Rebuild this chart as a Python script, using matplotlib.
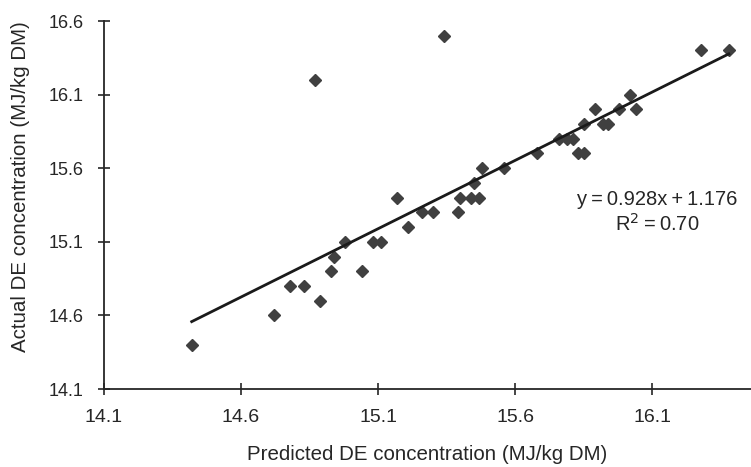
import numpy as np
import matplotlib
matplotlib.use('Agg')
import matplotlib.pyplot as plt

plt.rcParams['font.family'] = ['Liberation Sans', 'DejaVu Sans']

# Predicted vs actual DE concentration (MJ/kg DM)
predicted = [14.42, 14.72, 14.78, 14.83, 14.89, 14.93, 14.94, 14.98, 15.04,
             15.08, 15.11, 15.17, 15.21, 15.26, 15.30, 15.39, 15.40, 15.44,
             15.47, 15.45, 15.48, 15.56, 15.68, 15.76, 15.79, 15.81, 15.83,
             15.85, 15.85, 15.89, 15.92, 15.94, 15.98, 16.02, 16.04, 16.28,
             16.38, 14.87, 15.34]
actual = [14.40, 14.60, 14.80, 14.80, 14.70, 14.90, 15.00, 15.10, 14.90,
          15.10, 15.10, 15.40, 15.20, 15.30, 15.30, 15.30, 15.40, 15.40,
          15.40, 15.50, 15.60, 15.60, 15.70, 15.80, 15.80, 15.80, 15.70,
          15.70, 15.90, 16.00, 15.90, 15.90, 16.00, 16.10, 16.00, 16.40,
          16.40, 16.20, 16.50]

slope = 0.928
intercept = 1.176
r_squared = 0.70

ticks = [14.1, 14.6, 15.1, 15.6, 16.1, 16.6]
xticks = [14.1, 14.6, 15.1, 15.6, 16.1]

ink = '#262626'

fig = plt.figure(figsize=(7.51, 4.67), dpi=100)
ax = fig.add_axes([0.1385, 0.167, 0.8615, 0.788])

ax.plot(predicted, actual, linestyle='none', marker='D', markersize=6.2,
        color='#404040', zorder=3)

xfit = np.array([min(predicted), max(predicted)])
ax.plot(xfit, slope * xfit + intercept, color='#1a1a1a', linewidth=2.0, zorder=4)

# equation of the fitted line
ax.text(16.12, 15.39, f'y\u2009=\u2009{slope:.3f}x\u2009+\u2009{intercept:.3f}',
        ha='center', va='center', fontsize=14.5, color=ink)
ax.text(16.12, 15.225, f'R$^2$\u2009=\u2009{r_squared:.2f}',
        ha='center', va='center', fontsize=14.5, color=ink)

ax.set_xlim(14.1, 16.461)
ax.set_ylim(14.1, 16.6)
ax.set_xticks(xticks)
ax.set_yticks(ticks)
ax.set_xticklabels([f'{t:.1f}' for t in xticks])
ax.set_yticklabels([f'{t:.1f}' for t in ticks])

for side in ['top', 'right']:
    ax.spines[side].set_visible(False)
for side in ['left', 'bottom']:
    ax.spines[side].set_color(ink)
    ax.spines[side].set_linewidth(1.3)

ax.tick_params(axis='both', direction='inout', length=9, width=1.2,
               colors=ink, labelsize=13)
ax.tick_params(axis='x', pad=10, labelsize=14)
ax.tick_params(axis='y', pad=10)

ax.set_xlabel('Predicted DE concentration (MJ/kg DM)', fontsize=14.8, color=ink)
ax.xaxis.set_label_coords(0.5, -0.152)
ax.set_ylabel('Actual DE concentration (MJ/kg DM)', fontsize=14.8, color=ink)
ax.yaxis.set_label_coords(-0.115, 0.55)

fig.savefig('out.png', dpi=100)
